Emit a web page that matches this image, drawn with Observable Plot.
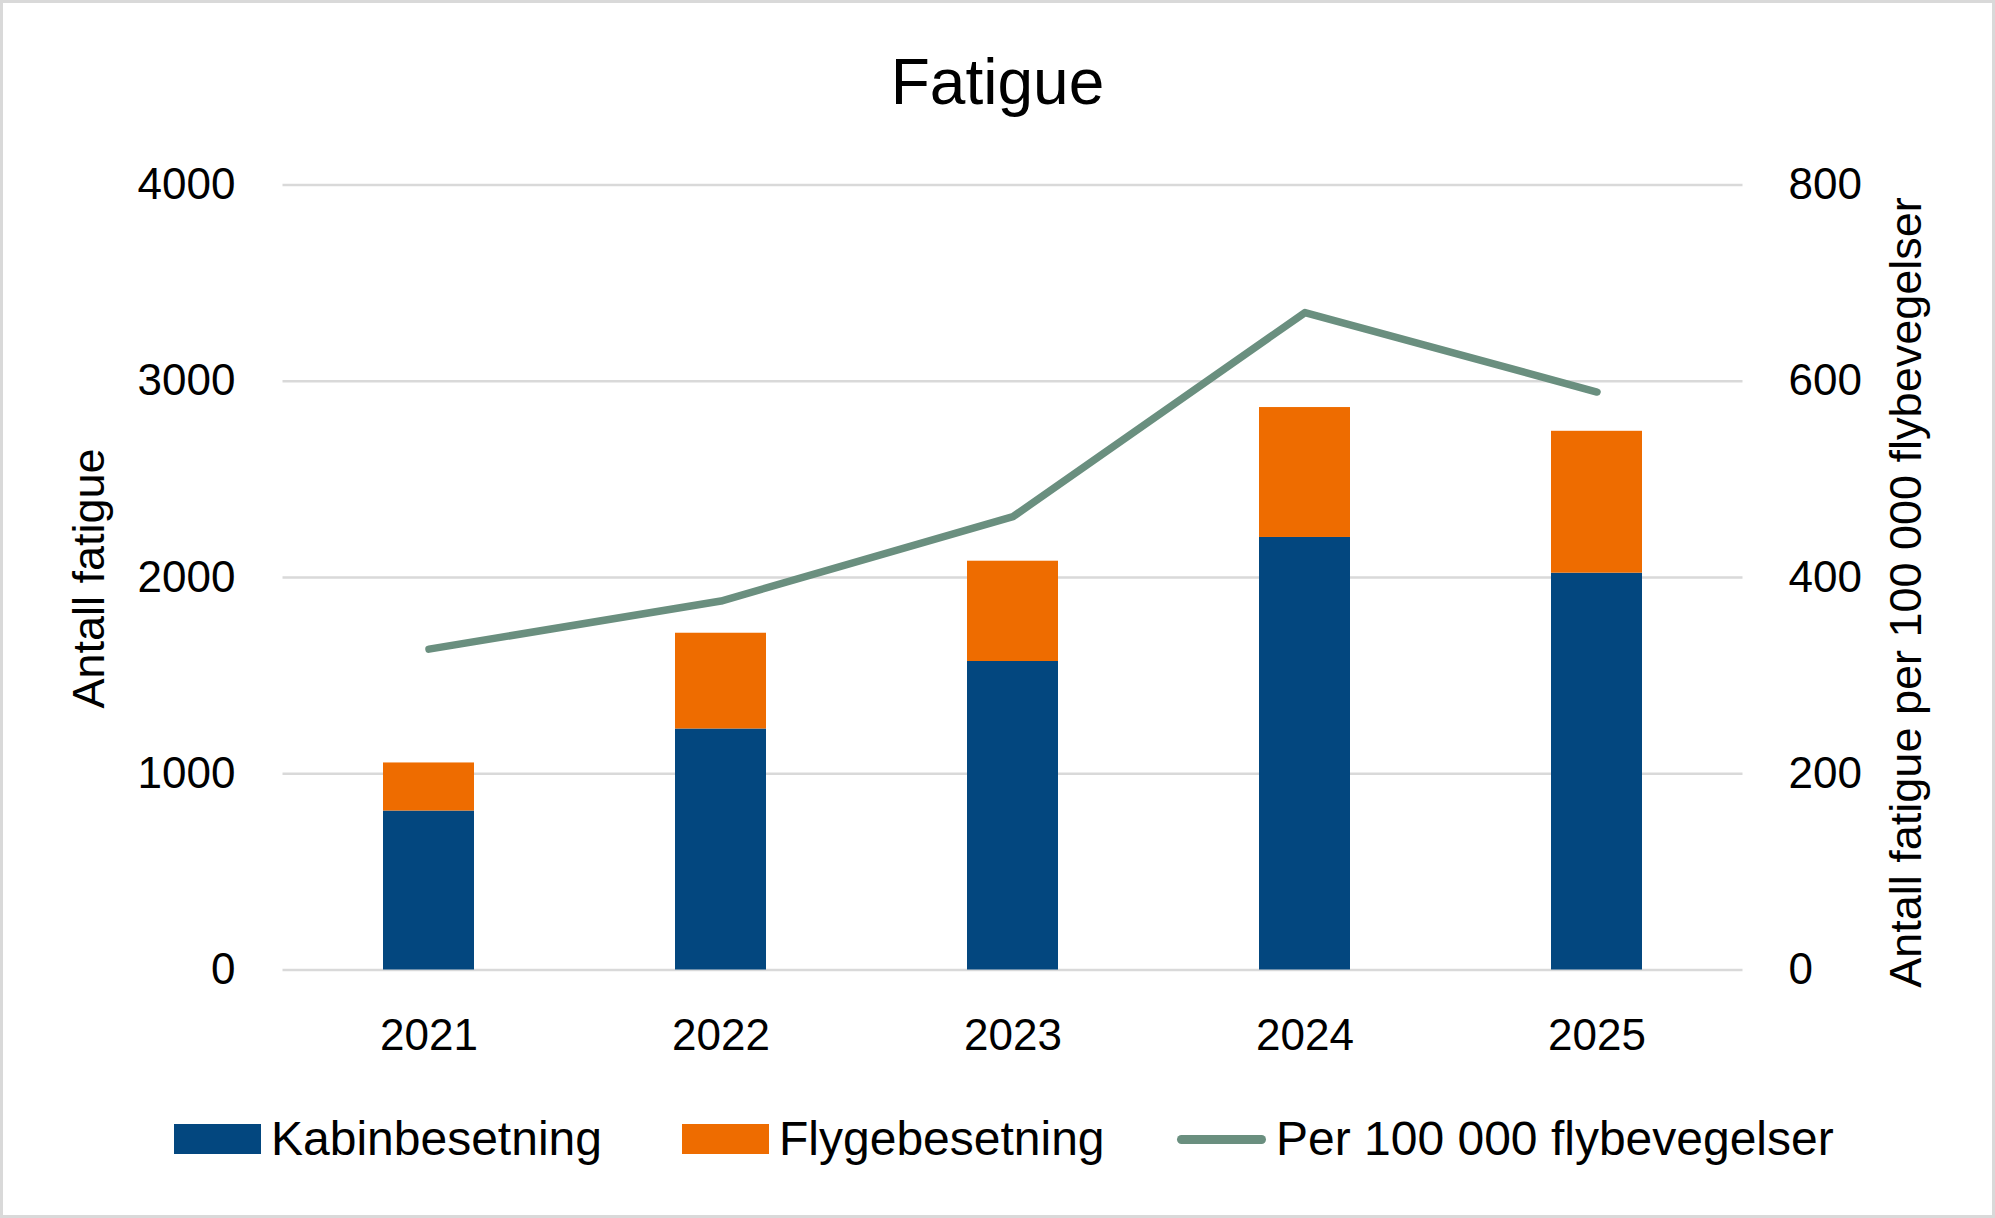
<!DOCTYPE html>
<html>
<head>
<meta charset="utf-8">
<script src="https://cdn.jsdelivr.net/npm/d3@7"></script>
<script src="https://cdn.jsdelivr.net/npm/@observablehq/plot@0.6"></script>
<style>
  html, body { margin: 0; padding: 0; background: #fff; }
  #chart {
    position: relative; width: 1995px; height: 1218px; box-sizing: border-box;
    font-family: "Liberation Sans", Arial, sans-serif; color: #000; overflow: hidden; background: #fff;
  }
  #chart::after {
    content: ""; position: absolute; inset: 0; border: 3px solid #d9d9d9; pointer-events: none;
  }
  #title { position: relative; height: 120px; }
  #title span {
    position: absolute; left: 0; right: 0; top: 50px; text-align: center;
    font-size: 64px; line-height: 64px;
  }
  #plot svg { display: block; }
  #legend { position: relative; height: 138px; }
  .item {
    position: absolute; top: 35px; height: 48px; display: flex; align-items: center;
    font-size: 48px; line-height: 48px; white-space: nowrap;
  }
  .swatch { width: 87px; height: 30px; margin-right: 10px; }
  .lineswatch { width: 89px; height: 9px; border-radius: 5px; margin-right: 10px; }
</style>
</head>
<body>
<div id="chart">
  <div id="title"><span>Fatigue</span></div>
  <div id="plot"></div>
  <div id="legend"></div>
</div>
<script>
// Yearly fatigue reports, split by crew type, and rate per 100 000 flight movements
const years = ["2021", "2022", "2023", "2024", "2025"];
const kabinbesetning = [810, 1228, 1572, 2204, 2022];
const flygebesetning = [245, 488, 511, 662, 723];
const perFlybevegelser = [327, 376, 462, 670, 589];

const seriesNames = ["Kabinbesetning", "Flygebesetning"];
const lineName = "Per 100 000 flybevegelser";
const seriesColors = ["#03477f", "#ee6c00"];
const lineColor = "#6a8f7f";

const leftTicks = [0, 1000, 2000, 3000, 4000];
const rightMax = 800;
const leftMax = 4000;
const ratio = leftMax / rightMax; // right axis maps onto the left scale

const barRows = [];
years.forEach((year, i) => {
  barRows.push({year, series: seriesNames[0], value: kabinbesetning[i]});
  barRows.push({year, series: seriesNames[1], value: flygebesetning[i]});
});
const lineRows = years.map((year, i) => ({year, rate: perFlybevegelser[i]}));

const fontFamily = "'Liberation Sans', Arial, sans-serif";

const chart = Plot.plot({
  width: 1995,
  height: 960,
  marginLeft: 282.5,
  marginRight: 252.5,
  marginTop: 64.5,
  marginBottom: 110.5,
  style: {fontFamily, fontSize: "44px", color: "#000", background: "transparent", overflow: "visible"},
  x: {domain: years, paddingInner: 0.69, paddingOuter: 0.345, label: null},
  y: {domain: [0, leftMax], label: null},
  color: {domain: seriesNames, range: seriesColors},
  marks: [
    Plot.gridY(leftTicks, {stroke: "#d9d9d9", strokeOpacity: 1, strokeWidth: 2.5}),
    Plot.barY(barRows, {x: "year", y: "value", fill: "series", order: seriesNames}),
    Plot.lineY(lineRows, {
      x: "year", y: d => d.rate * ratio,
      stroke: lineColor, strokeWidth: 7.5, strokeLinecap: "round", strokeLinejoin: "round"
    }),
    Plot.axisY(leftTicks, {anchor: "left", tickSize: 0, tickPadding: 47.5, tickFormat: d => String(d), label: null, fontSize: 44}),
    Plot.axisY(leftTicks, {anchor: "right", tickSize: 0, tickPadding: 45.5, tickFormat: d => String(d / ratio), label: null, fontSize: 44}),
    Plot.axisX({tickSize: 0, tickPadding: 48.5, label: null, fontSize: 44}),
    Plot.text(["Antall fatigue"], {
      frameAnchor: "left", dx: -193.5, dy: 1, rotate: -90,
      textAnchor: "middle", lineAnchor: "middle", fontSize: 45, fill: "#000"
    }),
    Plot.text(["Antall fatigue per 100 000 flybevegelser"], {
      frameAnchor: "right", dx: 163.5, dy: 15, rotate: -90,
      textAnchor: "middle", lineAnchor: "middle", fontSize: 45, fill: "#000"
    })
  ]
});
document.getElementById("plot").appendChild(chart);

// Legend below the chart
const legend = document.getElementById("legend");
const legendItems = [
  {label: seriesNames[0], color: seriesColors[0], kind: "swatch", left: 174},
  {label: seriesNames[1], color: seriesColors[1], kind: "swatch", left: 682},
  {label: lineName, color: lineColor, kind: "lineswatch", left: 1177}
];
for (const it of legendItems) {
  const item = document.createElement("div");
  item.className = "item";
  item.style.left = it.left + "px";
  const sw = document.createElement("div");
  sw.className = it.kind;
  sw.style.background = it.color;
  const tx = document.createElement("span");
  tx.textContent = it.label;
  item.appendChild(sw);
  item.appendChild(tx);
  legend.appendChild(item);
}
</script>
</body>
</html>
